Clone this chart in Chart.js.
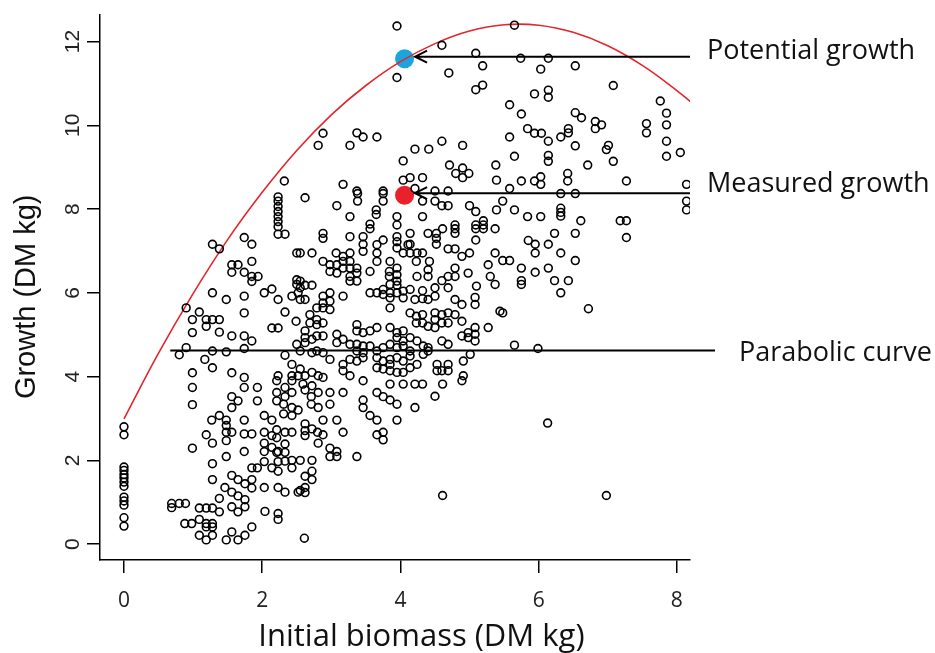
<!DOCTYPE html>
<html>
<head>
<meta charset="utf-8">
<title>Growth vs initial biomass</title>
<script src="https://cdn.jsdelivr.net/npm/chart.js@4.4.0/dist/chart.umd.min.js"></script>
<style>
  html, body { margin: 0; padding: 0; background: #fff; }
</style>
</head>
<body>
<canvas id="growthChart" width="935" height="653"></canvas>
<script>
// observed plants: [initial biomass, growth], DM kg
var observations = [
  [0,2.80],[0,2.61],[0,1.84],[0,1.76],[0,1.66],[0,1.58],[0,1.48],[0,1.38],[0,1.12],[0,1.03],[0,0.93],[0,0.63],[0,0.43],
  [0.99,3.74],[0.99,3.33],[0.99,2.29],[0.69,0.97],[0.69,0.87],[0.80,0.97],[0.89,0.97],
  [1.09,0.86],[1.19,0.86],[1.28,0.86],[1.38,0.77],[0.88,0.49],[0.98,0.49],[1.09,0.59],[1.19,0.49],[1.28,0.49],[1.28,0.41],[1.19,0.41],
  [1.09,0.21],[1.19,0.10],[1.28,0.21],[1.48,0.10],[1.56,0.29],[1.65,0.10],[1.75,0.21],[1.85,0.41],[1.38,1.09],
  [1.46,1.35],[1.56,1.24],[1.65,1.15],[1.75,1.06],[1.56,1.64],[1.65,1.54],[1.75,1.44],[1.85,1.54],[1.85,1.34],
  [1.75,0.89],[1.65,0.77],[1.56,0.89],[2.04,0.78],[2.23,0.73],[2.23,0.59],[1.28,1.92],[1.28,1.54],[1.19,2.61],[1.28,2.41],
  [1.48,2.09],[1.74,2.21],[1.27,2.96],[1.38,3.07],[1.48,2.96],[1.48,2.83],[1.48,2.67],[1.48,2.47],[1.56,2.67],
  [1.74,2.96],[1.74,2.63],[1.85,2.63],[1.56,3.52],[1.56,3.26],[1.65,3.42],[1.74,3.74],[1.93,3.74],[1.93,3.42],
  [2.03,3.07],[2.14,2.96],[2.03,2.67],[2.14,2.59],[2.03,2.41],[2.03,2.21],[2.14,2.31],[2.23,2.21],
  [1.85,1.82],[1.93,1.82],[2.03,1.97],[2.14,1.82],[2.23,1.74],[2.33,1.98],[2.43,1.82],[2.23,1.97],
  [2.03,1.35],[2.23,1.35],[2.33,1.24],[2.52,1.24],[2.21,3.62],[2.33,3.52],[2.43,3.62],[2.21,3.42],[2.31,3.34],
  [2.43,3.26],[2.52,3.20],[2.43,3.07],[2.31,3.11],[2.21,2.73],[2.33,2.67],[2.43,2.67],[2.21,2.54],[2.33,2.39],
  [2.33,2.19],[2.21,2.19],[2.43,2.00],[2.33,3.74],[2.43,3.90],[2.21,3.90],
  [4.61,1.16],[2.61,0.14],[4.50,3.53],[4.21,3.26],[4.61,3.82],[4.89,3.90],[3.95,2.96],[3.37,2.09],
  [3.66,3.62],[3.75,3.52],[3.85,3.44],[3.95,3.34],[3.46,3.44],[3.46,3.26],[3.56,3.07],[3.66,2.96],
  [3.66,2.61],[3.75,2.67],[3.75,2.49],[3.17,3.62],[2.98,3.62],[2.98,3.34],[2.81,3.62],[2.81,3.26],[2.71,3.52],[2.71,3.34],
  [2.62,3.68],[2.72,3.78],[2.59,3.82],[2.88,2.96],[3.08,2.96],[3.17,2.67],[2.80,2.67],[2.88,2.61],[2.81,2.41],
  [2.62,2.87],[2.62,2.71],[2.62,2.59],[2.72,2.75],[2.98,2.29],[3.08,2.21],[2.98,2.09],[3.08,2.09],
  [2.55,2.00],[2.72,2.00],[2.72,1.74],[2.62,1.62],[2.72,1.54],[2.62,1.35],[2.62,1.23],[2.55,1.28],
  [3.85,3.82],[4.04,3.82],[4.21,3.82],[4.32,3.82],[3.46,3.90],
  [6.13,2.89],[6.98,1.16],
  [2.23,8.29],[2.23,8.19],[2.23,8.06],[2.23,7.94],[2.23,7.82],[2.23,7.70],[2.23,7.58],[2.23,7.40],[2.33,7.40],
  [1.28,7.16],[1.38,7.05],[1.74,7.32],[1.85,7.16],[1.85,6.75],
  [1.56,6.67],[1.65,6.67],[1.56,6.49],[1.74,6.49],[1.85,6.39],[1.94,6.39],[1.85,6.27],[2.50,6.95],
  [1.28,6.00],[1.48,5.84],[1.74,5.92],[2.03,6.00],[2.14,6.09],[2.23,5.84],[2.43,5.92],[2.52,6.00],[2.50,6.20],[2.50,6.31],
  [0.90,5.64],[1.09,5.54],[0.99,5.36],[1.19,5.36],[1.28,5.36],[1.38,5.36],[1.19,5.20],[0.99,5.05],[1.38,5.06],
  [1.56,4.97],[1.74,4.97],[1.85,4.85],[1.74,5.52],[2.33,5.54],[2.14,5.16],[2.23,5.16],[2.49,5.32],
  [0.90,4.69],[0.80,4.52],[1.28,4.61],[1.48,4.59],[1.74,4.67],[1.17,4.41],[1.28,4.21],[0.99,4.09],[1.56,4.09],[1.74,3.98],
  [2.33,4.51],[2.43,4.29],[2.23,4.02],[2.43,4.02],[2.52,4.02],[2.50,4.77],
  [2.32,8.67],
  [3.95,12.37],[4.60,11.91],[5.09,11.72],[5.19,11.42],[4.70,11.25],[3.95,11.14],[5.19,10.96],[5.09,10.85],
  [2.88,9.81],[2.81,9.52],[3.37,9.82],[3.46,9.72],[3.27,9.52],[3.66,9.72],[4.60,9.62],[4.90,9.52],[4.21,9.43],[4.41,9.43],
  [4.04,9.15],[4.71,9.05],[4.90,8.98],[4.80,8.85],[4.99,8.85],[4.90,8.75],[5.38,9.05],[5.39,8.69],[4.14,8.75],[4.32,8.75],
  [4.04,8.69],[3.17,8.59],[3.37,8.43],[3.75,8.43],[4.21,8.49],[4.50,8.43],[4.69,8.43],
  [5.65,12.39],[5.74,11.60],[6.14,11.60],[6.03,11.34],[6.53,11.42],[7.08,10.95],[5.94,10.75],[6.14,10.84],[6.14,10.67],
  [5.58,10.49],[5.75,10.27],[6.53,10.30],[6.62,10.18],[6.82,10.09],[6.91,10.01],[6.82,9.92],[7.76,10.58],[7.85,10.29],
  [7.85,10.01],[7.56,10.04],[7.56,9.82],[7.85,9.62],[7.85,9.26],[8.05,9.35],[5.84,9.92],[5.94,9.81],[6.04,9.81],[6.14,9.62],
  [5.58,9.72],[6.32,9.72],[6.43,9.92],[6.43,9.82],[6.53,9.51],[7.01,9.52],[6.98,9.42],[7.08,9.14],[5.65,9.26],[6.14,9.28],
  [6.14,9.14],[6.71,9.05],[5.75,8.67],[5.94,8.67],[6.03,8.77],[6.03,8.59],[6.42,8.85],[6.42,8.67],[7.27,8.67],[8.14,8.59],[5.58,8.49],
  [5.48,8.19],[5.65,7.98],[5.84,7.82],[6.03,7.82],[6.32,8.02],[6.32,7.92],[6.32,7.83],[6.61,7.72],[7.18,7.72],[7.27,7.72],
  [7.27,7.32],[8.14,8.19],[8.14,7.98],[6.23,7.42],[6.53,7.42],[5.85,7.25],[5.95,7.16],[6.14,7.16],[5.95,6.95],[6.32,6.95],
  [5.48,6.77],[5.58,6.77],[6.53,6.77],[5.75,6.59],[6.14,6.59],[5.95,6.49],[5.75,6.29],[5.75,6.20],[6.23,6.29],[6.43,6.29],
  [6.32,6.00],[6.72,5.62],[5.48,5.52],[5.65,4.75],[5.99,4.67],[6.32,8.37],[6.53,8.37],
  [2.62,8.27],[3.08,8.08],[3.38,8.37],[3.38,8.19],[3.75,8.37],[3.75,8.19],[3.65,7.98],[3.65,7.87],[3.95,7.82],[3.95,7.62],
  [3.27,7.82],[4.32,7.82],[3.56,7.64],[3.56,7.53],[4.32,8.19],[4.50,8.19],[4.60,8.08],[4.69,8.08],
  [5.00,8.08],[5.09,7.94],[5.20,7.72],[5.20,7.62],[5.09,7.62],[5.09,7.53],[5.20,7.53],[5.39,7.98],[5.37,7.53],
  [2.88,7.42],[2.88,7.30],[3.27,7.34],[3.46,7.34],[3.46,7.16],[3.75,7.26],[3.95,7.34],[3.95,7.22],[3.95,7.07],
  [4.14,7.42],[4.14,7.16],[4.40,7.42],[4.52,7.42],[4.52,7.30],[4.52,7.16],[4.61,7.53],[4.79,7.62],[4.79,7.53],[4.79,7.42],[5.09,7.26],
  [2.72,6.95],[2.55,6.95],[3.07,6.95],[3.17,6.87],[3.27,6.95],[3.46,6.99],[3.66,7.15],[3.66,6.95],[3.66,6.75],[3.85,6.75],
  [4.04,6.95],[4.14,6.95],[4.24,6.95],[4.32,6.95],[4.42,6.75],[4.23,6.75],[4.11,7.15],[4.69,7.05],[4.79,7.05],[4.89,6.87],
  [5.00,6.95],[5.37,6.95],
  [2.88,6.75],[2.98,6.67],[3.08,6.67],[3.17,6.75],[3.27,6.75],[2.98,6.51],[3.08,6.47],[3.17,6.59],[3.27,6.59],[3.37,6.59],
  [3.37,6.47],[3.27,6.39],[3.27,6.28],[3.37,6.28],[3.56,6.51],[3.84,6.51],[3.84,6.39],[3.95,6.59],[3.95,6.43],[3.95,6.28],
  [3.85,6.20],[3.95,6.18],[4.24,6.39],[4.40,6.39],[4.40,6.55],[4.60,6.29],[4.69,6.39],[4.79,6.59],[4.79,6.39],
  [4.98,6.47],[5.10,6.16],[5.27,6.67],[5.30,6.39],[5.37,6.20],[2.55,6.28],[2.62,6.18],[2.55,6.12],[2.72,6.18],
  [3.56,6.00],[3.66,6.00],[3.75,6.08],[3.75,5.96],[3.85,6.00],[3.85,5.88],[3.85,5.64],[3.95,6.00],[4.04,6.04],[4.04,5.88],
  [4.14,6.08],[4.21,5.84],[4.32,6.05],[4.32,5.86],[4.40,5.84],[4.50,6.12],[4.50,5.92],[4.69,6.12],[4.79,5.84],[4.89,5.72],
  [5.08,5.89],[5.08,5.72],[2.55,5.84],[2.62,5.84],[2.88,5.92],[2.98,6.00],[2.98,5.80],[2.88,5.76],[3.17,5.92],
  [2.79,5.64],[2.88,5.64],[2.98,5.60],[2.69,5.48],[2.79,5.36],[2.69,5.28],[2.79,5.24],[2.88,5.28],
  [4.14,5.52],[4.23,5.44],[4.23,5.28],[4.32,5.48],[4.32,5.28],[4.40,5.20],[4.50,5.52],[4.50,5.36],[4.50,5.17],
  [4.60,5.48],[4.60,5.28],[4.69,5.52],[4.69,5.28],[4.79,5.48],[4.89,5.32],[5.08,5.17],[4.98,5.05],[5.27,5.17],[5.44,5.56],
  [3.37,5.24],[3.37,5.09],[3.46,5.05],[3.56,5.09],[3.66,5.17],[3.85,5.17],[3.95,5.05],[3.95,4.93],[4.04,5.09],[4.04,4.85],
  [4.04,4.73],[4.14,4.93],[4.24,4.85],[4.40,4.69],[4.60,4.85],[4.69,4.77],[4.89,4.97],[4.98,4.93],[5.08,5.01],[5.08,4.85],
  [2.62,5.09],[2.62,4.93],[2.62,4.81],[2.72,4.89],[2.79,4.97],[2.88,4.97],[3.08,5.01],[3.08,4.81],[3.17,4.89],[3.27,4.77],
  [3.37,4.77],[3.46,4.73],[3.37,4.61],[3.46,4.57],[3.56,4.73],[3.66,4.61],[3.75,4.69],[3.85,4.77],[3.95,4.69],
  [4.14,4.61],[4.33,4.73],[4.40,4.61],
  [2.55,4.61],[2.72,4.57],[2.79,4.61],[2.88,4.57],[2.98,4.41],[3.17,4.29],[3.27,4.41],[3.37,4.37],[3.46,4.45],
  [3.66,4.45],[3.75,4.37],[3.85,4.41],[3.85,4.29],[3.95,4.45],[4.04,4.37],[4.14,4.49],[4.14,4.21],
  [3.85,4.14],[3.95,4.10],[4.04,4.10],[4.24,4.29],[4.33,4.53],[4.53,4.29],[4.60,4.14],[4.69,4.29],[4.91,4.37],[5.01,4.53],
  [2.55,4.18],[2.62,4.02],[2.72,4.10],[2.81,4.02],[2.88,3.98],[3.17,4.14],[3.27,4.02],[3.66,4.21],[3.75,4.18],
  [4.53,4.14],[4.69,4.14],[4.91,4.02]
];

var curveX = [0, 0.5, 1, 1.5, 2, 2.5, 3, 3.5, 4, 4.5, 5, 5.5, 6, 6.5, 7, 7.5, 8, 8.2];
var curveY = [2.99, 4.56, 5.98, 7.27, 8.40, 9.40, 10.25, 10.95, 11.52, 11.95, 12.25, 12.40, 12.39, 12.22, 11.90, 11.43, 10.83, 10.56];

// highlighted plant
var potentialPoint = [4.06, 11.59];
var measuredPoint = [4.06, 8.33];

// horizontal reference line
var parabolicLevel = 4.62;
var parabolicStart = 0.67;

var xTicks = [0, 2, 4, 6, 8];
var yTicks = [0, 2, 4, 6, 8, 10, 12];
var labelTexts = ['Potential growth', 'Measured growth', 'Parabolic curve'];

var markerRadius = 9.5;

var annotations = {
  id: 'annotations',
  afterDraw: function (chart) {
    var ctx = chart.ctx;
    var xs = chart.scales.x, ys = chart.scales.y;
    var area = chart.chartArea;
    ctx.save();
    ctx.strokeStyle = '#000';
    ctx.fillStyle = '#111';
    ctx.lineWidth = 2;

    // arrows pointing at the two big markers
    [potentialPoint, measuredPoint].forEach(function (p) {
      var tip = xs.getPixelForValue(p[0]) + markerRadius + 1;
      var y = ys.getPixelForValue(p[1]) - 2;
      ctx.beginPath();
      ctx.moveTo(area.right, y);
      ctx.lineTo(tip, y);
      ctx.moveTo(tip + 12, y - 6);
      ctx.lineTo(tip, y);
      ctx.lineTo(tip + 12, y + 6);
      ctx.stroke();
    });

    var py = ys.getPixelForValue(parabolicLevel);
    ctx.beginPath();
    ctx.moveTo(xs.getPixelForValue(parabolicStart), py);
    ctx.lineTo(area.right + 25, py);
    ctx.stroke();

    // right-hand labels
    ctx.font = '27px "Open Sans"';
    ctx.textBaseline = 'middle';
    ctx.textAlign = 'left';
    ctx.fillText(labelTexts[0], area.right + 17, ys.getPixelForValue(potentialPoint[1]) - 7);
    ctx.fillText(labelTexts[1], area.right + 17, ys.getPixelForValue(measuredPoint[1]) - 11);
    ctx.fillText(labelTexts[2], area.right + 49, py + 3);

    // axis titles
    ctx.textAlign = 'center';
    ctx.font = '31px "Open Sans"';
    ctx.fillText('Initial biomass (DM kg)', xs.getPixelForValue(4) + 21, 637);

    ctx.save();
    ctx.translate(27, ys.getPixelForValue(6) + 4);
    ctx.rotate(-Math.PI / 2);
    ctx.font = '29px "Liberation Sans"';
    ctx.fillText('Growth (DM kg)', 0, 0);
    ctx.restore();

    ctx.restore();
  }
};

var config = {
  type: 'scatter',
  data: {
    datasets: [{
      label: 'Observed',
      data: observations.map(function (p) { return { x: p[0], y: p[1] }; }),
      pointStyle: 'circle',
      pointRadius: 3.9,
      pointBorderWidth: 1.6,
      pointBorderColor: '#000',
      pointBackgroundColor: 'rgba(0,0,0,0)'
    }, {
      label: 'Parabolic curve',
      type: 'line',
      data: curveX.map(function (x, i) { return { x: x, y: curveY[i] }; }),
      borderColor: '#e3262d',
      borderWidth: 1.6,
      pointRadius: 0,
      tension: 0.4,
      fill: false
    }, {
      label: 'Potential growth',
      data: [{ x: potentialPoint[0], y: potentialPoint[1] }],
      pointRadius: markerRadius,
      pointBorderWidth: 0,
      pointBackgroundColor: '#1ca4df'
    }, {
      label: 'Measured growth',
      data: [{ x: measuredPoint[0], y: measuredPoint[1] }],
      pointRadius: markerRadius,
      pointBorderWidth: 0,
      pointBackgroundColor: '#e8212a'
    }]
  },
  options: {
    responsive: false,
    animation: false,
    layout: { padding: { left: 0, right: 245, top: 12, bottom: 0 } },
    plugins: { legend: { display: false }, tooltip: { enabled: false } },
    scales: {
      x: {
        type: 'linear',
        min: -0.347,
        max: 8.19,
        afterBuildTicks: function (scale) {
          scale.ticks = xTicks.map(function (v) { return { value: v }; });
        },
        afterFit: function (scale) { scale.height = 93; },
        grid: { drawOnChartArea: false, drawTicks: true, tickLength: 13, color: '#000', lineWidth: 1.5 },
        border: { display: true, color: '#000', width: 1.5 },
        ticks: {
          autoSkip: false, maxRotation: 0, padding: 15, color: '#222',
          font: { family: 'Open Sans', size: 21 },
          callback: function (v) { return String(v); }
        }
      },
      y: {
        type: 'linear',
        min: -0.38,
        max: 12.643,
        afterBuildTicks: function (scale) {
          scale.ticks = yTicks.map(function (v) { return { value: v }; });
        },
        afterFit: function (scale) { scale.width = 100; },
        grid: { drawOnChartArea: false, drawTicks: true, tickLength: 13, color: '#000', lineWidth: 1.5 },
        border: { display: true, color: '#000', width: 1.5 },
        ticks: {
          autoSkip: false, minRotation: 90, maxRotation: 90, crossAlign: 'center', padding: 2, color: '#222',
          font: { family: 'Liberation Sans', size: 21 },
          callback: function (v) { return String(v); }
        }
      }
    }
  },
  plugins: [annotations]
};

window.onload = function () {
  var ctx = document.getElementById('growthChart').getContext('2d');
  window.growthChart = new Chart(ctx, config);
};
</script>
</body>
</html>
